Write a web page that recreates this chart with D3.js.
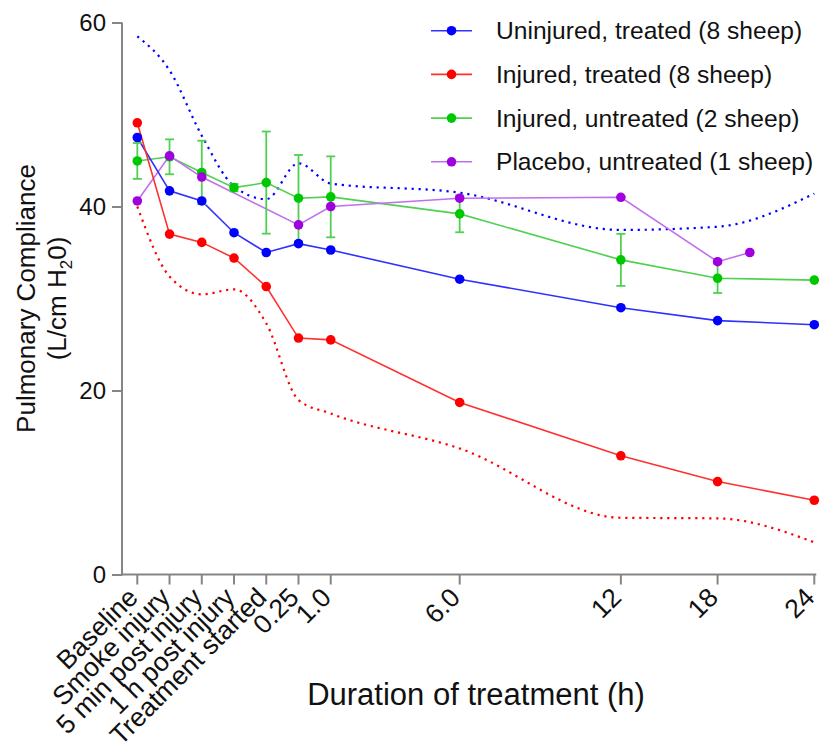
<!DOCTYPE html>
<html>
<head>
<meta charset="utf-8">
<script src="https://cdn.jsdelivr.net/npm/d3@7"></script>
<style>
  html, body { margin: 0; padding: 0; background: #fff; }
  svg { display: block; font-family: "Liberation Sans", Arial, sans-serif; }
</style>
</head>
<body>
<svg id="chart" width="821" height="749"></svg>
<script>
// ---------------- data ----------------
const categories = ["Baseline", "Smoke injury", "5 min post injury", "1 h post injury",
  "Treatment started", "0.25", "1.0", "6.0", "12", "18", "24"];
const timeValues = [-4, -3, -2, -1, 0, 0.25, 1, 6, 12, 18, 24];

const uninjuredTreated = [47.5, 41.7, 40.6, 37.15, 35.0, 35.96, 35.27, 32.1, 29.0, 27.6, 27.15];
const injuredTreated   = [49.1, 37.0, 36.1, 34.4, 31.3, 25.7, 25.5, 18.7, 12.9, 10.1, 8.07];
const injuredUntreated = [44.95, 45.4, 43.7, 42.05, 42.6, 40.9, 41.05, 39.2, 34.2, 32.2, 32.0];
const injuredUntreatedErr = [1.95, 1.9, 3.45, 0.4, 5.55, 4.7, 4.4, 2.0, 2.83, 1.6, 0];

const placeboTimes  = [-4, -3, -2, 0.25, 1, 6, 12, 18, 20];
const placeboValues = [40.6, 45.5, 43.2, 38.0, 40.0, 40.9, 41.0, 34.0, 35.0];

const uninjuredUpper = [58.5, 54.8, 47.7, 42.2, 40.8, 44.7, 42.5, 41.5, 37.45, 37.8, 41.4];
const injuredLower   = [40.0, 32.4, 30.45, 31.0, 27.3, 18.97, 17.5, 13.7, 6.17, 6.1, 3.5];

const yTicks = [0, 20, 40, 60];
const seriesNames = ["Uninjured, treated (8 sheep)", "Injured, treated (8 sheep)",
  "Injured, untreated (2 sheep)", "Placebo, untreated (1 sheep)"];
const seriesColors = ["#0000ff", "#ff0000", "#00c800", "#a000e0"];
const lineColors   = ["#3030ff", "#ff3030", "#50d050", "#c070ee"];

// ---------------- layout ----------------
const svg = d3.select("#chart");
const axisX0 = 122, plotBottom = 574.5, plotTop = 22.5;
const firstX = 137.3, lastX = 814.3;
// relative slot spacing between consecutive time points (uneven axis)
const gaps = [1, 1, 1, 1, 1, 1, 4, 5, 3, 3];
const totalGap = d3.sum(gaps);
const cum = [0];
gaps.forEach((g, i) => cum.push(cum[i] + g));
const xRange = cum.map(c => firstX + (lastX - firstX) * c / totalGap);

const x = d3.scaleLinear().domain(timeValues).range(xRange);
const y = d3.scaleLinear().domain([0, 60]).range([plotBottom, plotTop]);

const axisColor = "#858585";

// ---------------- axes ----------------
const yAxis = d3.axisLeft(y).tickValues(yTicks).tickSize(10).tickPadding(6).tickSizeOuter(0);
const gy = svg.append("g").attr("transform", `translate(${axisX0},0)`).call(yAxis);
gy.select(".domain").attr("stroke", axisColor).attr("stroke-width", 2)
  .attr("d", `M0,${plotTop}V${plotBottom + 1}`);
gy.selectAll(".tick line").attr("stroke", axisColor).attr("stroke-width", 2);
gy.selectAll(".tick text").attr("font-size", 24).attr("fill", "#111")
  .attr("font-family", "Liberation Sans, Arial, sans-serif");

const xAxisG = svg.append("g");
xAxisG.append("line").attr("x1", axisX0 - 1).attr("x2", lastX + 2)
  .attr("y1", plotBottom).attr("y2", plotBottom)
  .attr("stroke", axisColor).attr("stroke-width", 2);
const xt = xAxisG.selectAll("g.xtick").data(categories).enter().append("g")
  .attr("class", "xtick")
  .attr("transform", (d, i) => `translate(${x(timeValues[i])},${plotBottom})`);
xt.append("line").attr("y1", 0).attr("y2", 10).attr("stroke", axisColor).attr("stroke-width", 2);
xt.append("text")
  .attr("transform", "translate(2,24.5) rotate(-45)")
  .attr("text-anchor", "end")
  .attr("font-size", 26.5).attr("fill", "#111")
  .text(d => d);

// axis titles
svg.append("text").attr("x", 476).attr("y", 705).attr("text-anchor", "middle")
  .attr("font-size", 31).attr("fill", "#111").text("Duration of treatment (h)");

const yt = svg.append("g").attr("transform", `translate(0,${(plotTop + plotBottom) / 2}) rotate(-90)`);
yt.append("text").attr("x", 0).attr("y", 35).attr("text-anchor", "middle")
  .attr("font-size", 26).attr("fill", "#111").text("Pulmonary Compliance");
const t2 = yt.append("text").attr("x", 0).attr("y", 66).attr("text-anchor", "middle")
  .attr("font-size", 26).attr("fill", "#111");
t2.append("tspan").text("(L/cm H");
t2.append("tspan").attr("font-size", 17).attr("dy", 6).text("2");
t2.append("tspan").attr("dy", -6).text("0)");

// ---------------- marks ----------------
const plot = svg.append("g");
const dotLine = d3.line().x(d => x(d[0])).y(d => y(d[1])).curve(d3.curveMonotoneX);
const solidLine = d3.line().x(d => x(d[0])).y(d => y(d[1]));

// dotted bounds
plot.append("path").datum(timeValues.map((t, i) => [t, uninjuredUpper[i]]))
  .attr("d", dotLine).attr("fill", "none").attr("stroke", seriesColors[0])
  .attr("stroke-width", 2.2).attr("stroke-dasharray", "2.2,4.8");
plot.append("path").datum(timeValues.map((t, i) => [t, injuredLower[i]]))
  .attr("d", dotLine).attr("fill", "none").attr("stroke", seriesColors[1])
  .attr("stroke-width", 2.2).attr("stroke-dasharray", "2.2,4.8");

const seriesData = [
  timeValues.map((t, i) => [t, uninjuredTreated[i]]),
  timeValues.map((t, i) => [t, injuredTreated[i]]),
  timeValues.map((t, i) => [t, injuredUntreated[i], injuredUntreatedErr[i]]),
  placeboTimes.map((t, i) => [t, placeboValues[i]])
];

// draw order: green, purple, blue, red lines
const order = [2, 3, 0, 1];
order.forEach(k => {
  plot.append("path").datum(seriesData[k]).attr("d", solidLine)
    .attr("fill", "none").attr("stroke", lineColors[k]).attr("stroke-width", 1.6);
});

// error bars for injured untreated
const eb = plot.selectAll("g.err").data(seriesData[2].filter(d => d[2] > 0)).enter().append("g");
eb.append("line").attr("x1", d => x(d[0])).attr("x2", d => x(d[0]))
  .attr("y1", d => y(d[1] + d[2])).attr("y2", d => y(d[1] - d[2]))
  .attr("stroke", lineColors[2]).attr("stroke-width", 1.8);
[1, -1].forEach(s => {
  eb.append("line").attr("x1", d => x(d[0]) - 4.5).attr("x2", d => x(d[0]) + 4.5)
    .attr("y1", d => y(d[1] + s * d[2])).attr("y2", d => y(d[1] + s * d[2]))
    .attr("stroke", lineColors[2]).attr("stroke-width", 1.8);
});

order.forEach(k => {
  plot.selectAll(null).data(seriesData[k]).enter().append("circle")
    .attr("cx", d => x(d[0])).attr("cy", d => y(d[1])).attr("r", 4.8)
    .attr("fill", seriesColors[k]);
});

// ---------------- legend ----------------
const legend = svg.append("g");
seriesNames.forEach((name, i) => {
  const cy = 30.7 + i * 43.7;
  legend.append("line").attr("x1", 431).attr("x2", 472).attr("y1", cy).attr("y2", cy)
    .attr("stroke", lineColors[i]).attr("stroke-width", 1.6);
  legend.append("circle").attr("cx", 451.5).attr("cy", cy).attr("r", 4.8).attr("fill", seriesColors[i]);
  legend.append("text").attr("x", 496).attr("y", cy + 8.6).attr("font-size", 24.6)
    .attr("fill", "#111").text(name);
});
</script>
</body>
</html>
